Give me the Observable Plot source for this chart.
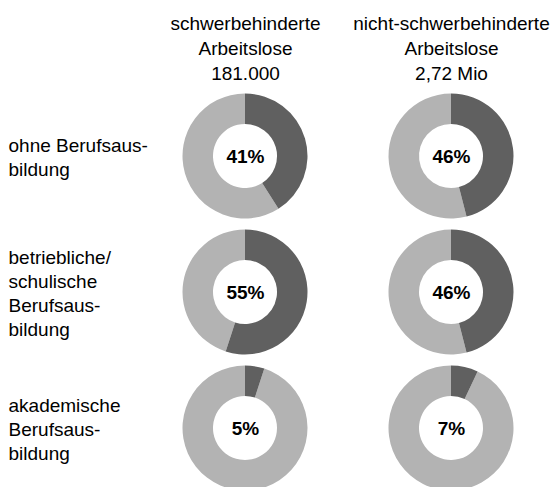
<!DOCTYPE html>
<html><head><meta charset="utf-8">
<script src="https://cdn.jsdelivr.net/npm/d3@7"></script>
<script src="https://cdn.jsdelivr.net/npm/@observablehq/plot@0.6"></script>
<style>body{margin:0;background:#fff}</style>
</head><body><div id="chart"></div>
<script>
const groups = ["schwerbehinderte\nArbeitslose\n181.000", "nicht-schwerbehinderte\nArbeitslose\n2,72 Mio"];
const levels = ["ohne Berufsaus-\nbildung", "betriebliche/\nschulische\nBerufsaus-\nbildung", "akademische\nBerufsaus-\nbildung"];
const shareSchwer = [41, 55, 5];
const shareNicht = [46, 46, 7];

const data = [];
levels.forEach((lv, i) => {
  data.push({group: groups[0], level: lv, share: shareSchwer[i]});
  data.push({group: groups[1], level: lv, share: shareNicht[i]});
});

const DARK = "#606060", LIGHT = "#b3b3b3";
const rOuter = 62.5, rInner = 32;

function donuts(index, scales, values) {
  const g = d3.create("svg:g");
  const arc = d3.arc().innerRadius(rInner).outerRadius(rOuter);
  for (const i of index) {
    const a = data[i].share / 100 * 2 * Math.PI;
    const gi = g.append("g").attr("transform", `translate(${values.x[i]},${values.y[i]})`);
    gi.append("path").attr("d", arc({startAngle: a, endAngle: 2 * Math.PI})).attr("fill", LIGHT);
    gi.append("path").attr("d", arc({startAngle: 0, endAngle: a})).attr("fill", DARK);
  }
  return g.node();
}

const chart = Plot.plot({
  width: 556,
  height: 487,
  margin: 0,
  style: {fontFamily: "'Liberation Sans', Arial, sans-serif", background: "#fff"},
  x: {type: "point", domain: groups, range: [244.5, 451], padding: 0, axis: null},
  y: {type: "point", domain: levels, range: [156, 428.5], padding: 0, axis: null},
  marks: [
    Plot.dot(data, {x: "group", y: "level", render: donuts}),
    Plot.text(data, {x: "group", y: "level", text: d => d.share + "%", fontSize: 19, fontWeight: "bold", fill: "#000"}),
    Plot.text(groups, {x: d => d, text: d => d, frameAnchor: "top", lineAnchor: "top", dy: 12, fontSize: 19, lineHeight: 1.31, fill: "#000"}),
    Plot.text(levels, {y: d => d, text: d => d, frameAnchor: "left", textAnchor: "start", lineAnchor: "middle", dx: 8, fontSize: 19, lineHeight: 1.27, fill: "#000"})
  ]
});
document.getElementById("chart").appendChild(chart);
</script>
</body></html>
